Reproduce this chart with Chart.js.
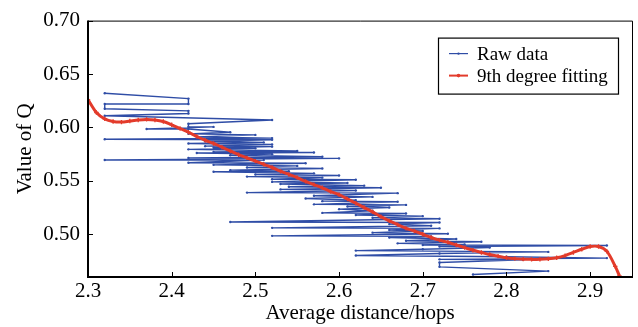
<!DOCTYPE html>
<html>
<head>
<meta charset="utf-8">
<script src="https://cdn.jsdelivr.net/npm/chart.js@4.4.1/dist/chart.umd.min.js"></script>
<style>
  html, body { margin: 0; padding: 0; background: #fff; }
  #wrap { width: 638px; height: 327px; }
</style>
</head>
<body>
<div id="wrap"><canvas id="myChart" width="638" height="327"></canvas></div>
<script>
// raw data, in the order it was recorded (the line zigzags between points)
const rawX = [
  2.32, 2.42, 2.42, 2.32, 2.32, 2.42, 2.42, 2.32, 2.52, 2.42,
  2.42, 2.45, 2.37, 2.42, 2.47, 2.42, 2.50, 2.43, 2.52, 2.32,
  2.52, 2.44, 2.51, 2.42, 2.52, 2.44, 2.52, 2.45, 2.50, 2.42,
  2.55, 2.45, 2.57, 2.43, 2.52, 2.47, 2.58, 2.42, 2.60, 2.32,
  2.51, 2.42, 2.56, 2.45, 2.55, 2.49, 2.58, 2.47, 2.54, 2.45,
  2.57, 2.50, 2.60, 2.49, 2.58, 2.52, 2.62, 2.52, 2.61, 2.53,
  2.63, 2.54, 2.65, 2.53, 2.62, 2.49, 2.67, 2.57, 2.64, 2.56,
  2.62, 2.58, 2.67, 2.57, 2.68, 2.61, 2.66, 2.60, 2.64, 2.58,
  2.68, 2.62, 2.70, 2.64, 2.72, 2.47, 2.72, 2.66, 2.71, 2.52,
  2.72, 2.66, 2.70, 2.64, 2.73, 2.52, 2.71, 2.66, 2.74, 2.68,
  2.77, 2.67, 2.75, 2.70, 2.92, 2.72, 2.78, 2.70, 2.62, 2.85,
  2.72, 2.62, 2.80, 2.92, 2.72, 2.82, 2.72, 2.72, 2.85, 2.76
];
const rawQ = [
  0.632, 0.627, 0.622, 0.622, 0.6175, 0.6155, 0.613, 0.611, 0.607, 0.6035,
  0.6005, 0.6005, 0.5985, 0.5985, 0.5955, 0.594, 0.593, 0.591, 0.590, 0.589,
  0.5885, 0.587, 0.586, 0.585, 0.584, 0.5825, 0.582, 0.581, 0.5805, 0.5795,
  0.578, 0.577, 0.5765, 0.576, 0.575, 0.574, 0.5725, 0.5715, 0.571, 0.5695,
  0.5695, 0.567, 0.5665, 0.565, 0.564, 0.5625, 0.5615, 0.560, 0.559, 0.5585,
  0.557, 0.556, 0.555, 0.554, 0.553, 0.5515, 0.551, 0.549, 0.548, 0.547,
  0.5455, 0.5445, 0.5435, 0.542, 0.541, 0.539, 0.5385, 0.536, 0.535, 0.5335,
  0.532, 0.531, 0.5305, 0.528, 0.5275, 0.526, 0.525, 0.5235, 0.522, 0.520,
  0.5195, 0.518, 0.517, 0.5155, 0.5145, 0.5115, 0.511, 0.5095, 0.508, 0.506,
  0.5055, 0.504, 0.503, 0.5015, 0.5005, 0.4985, 0.498, 0.497, 0.4955, 0.494,
  0.493, 0.4915, 0.4905, 0.490, 0.4895, 0.4885, 0.4875, 0.486, 0.4847, 0.4835,
  0.482, 0.4801, 0.479, 0.4777, 0.4765, 0.476, 0.4736, 0.4695, 0.4655, 0.4623
];

// 9th degree fit
const fitX = [
  2.30, 2.31, 2.32, 2.33, 2.34, 2.35, 2.36, 2.37, 2.38, 2.39,
  2.40, 2.41, 2.42, 2.43, 2.44, 2.45, 2.46, 2.47, 2.48, 2.49,
  2.50, 2.51, 2.52, 2.53, 2.54, 2.55, 2.56, 2.57, 2.58, 2.59,
  2.60, 2.61, 2.62, 2.63, 2.64, 2.65, 2.66, 2.67, 2.68, 2.69,
  2.70, 2.71, 2.72, 2.73, 2.74, 2.75, 2.76, 2.77, 2.78, 2.79,
  2.80, 2.81, 2.82, 2.83, 2.84, 2.85, 2.86, 2.87, 2.88, 2.89,
  2.90, 2.91, 2.92, 2.93, 2.935
];
const fitQ = [
  0.626, 0.614, 0.608, 0.6055, 0.605, 0.606, 0.607, 0.6075, 0.607, 0.6055,
  0.6025, 0.599, 0.5955, 0.5915, 0.588, 0.585, 0.5815, 0.578, 0.5745, 0.5715,
  0.5685, 0.5655, 0.5625, 0.559, 0.556, 0.553, 0.5495, 0.5465, 0.5435, 0.540,
  0.537, 0.533, 0.529, 0.525, 0.521, 0.5165, 0.5125, 0.509, 0.5055, 0.503,
  0.500, 0.497, 0.4945, 0.4925, 0.490, 0.4875, 0.485, 0.483, 0.481, 0.4795,
  0.478, 0.4772, 0.4767, 0.4765, 0.4765, 0.477, 0.478, 0.480, 0.483, 0.486,
  0.4885, 0.4885, 0.484, 0.470, 0.461
];

const xTicks = [2.3, 2.4, 2.5, 2.6, 2.7, 2.8, 2.9];
const yTicks = [0.50, 0.55, 0.60, 0.65, 0.70];

const serif = "'Liberation Serif', 'Times New Roman', serif";
const BLUE = "#2f4da6";
const RED = "#e33b2b";

const toPts = (xs, ys) => xs.map((x, i) => ({ x: x, y: ys[i] }));

// frame, inward ticks and the legend box
const framePlugin = {
  id: "frame",
  afterDraw(chart) {
    const { ctx, chartArea: a, scales } = chart;
    ctx.save();
    ctx.strokeStyle = "#000";
    ctx.lineWidth = 1;
    ctx.beginPath();
    ctx.moveTo(a.left, a.top + 0.5);
    ctx.lineTo(a.right + 0.5, a.top + 0.5);
    ctx.lineTo(a.right + 0.5, a.bottom);
    ctx.stroke();
    ctx.lineWidth = 2;
    ctx.beginPath();
    ctx.moveTo(a.left, a.top);
    ctx.lineTo(a.left, a.bottom);
    ctx.lineTo(a.right + 1, a.bottom);
    ctx.stroke();
    ctx.lineWidth = 1;
    xTicks.forEach((v) => {
      const px = Math.round(scales.x.getPixelForValue(v)) + 0.5;
      ctx.beginPath();
      ctx.moveTo(px, a.bottom);
      ctx.lineTo(px, a.bottom - 5);
      ctx.stroke();
    });
    yTicks.forEach((v) => {
      const py = Math.round(scales.y.getPixelForValue(v)) + 0.5;
      ctx.beginPath();
      ctx.moveTo(a.left, py);
      ctx.lineTo(a.left + 5, py);
      ctx.stroke();
    });

    // legend
    const bx = a.right - 194, by = a.top + 17, bw = 180, bh = 56;
    ctx.lineWidth = 1.2;
    ctx.strokeRect(bx + 0.5, by + 0.5, bw, bh);
    ctx.font = "19px " + serif;
    ctx.textBaseline = "middle";
    ctx.fillStyle = "#000";
    chart.data.datasets.forEach((ds, i) => {
      const ry = by + 16 + i * 22;
      ctx.strokeStyle = ds.borderColor;
      ctx.lineWidth = i === 0 ? 1.2 : 2;
      ctx.beginPath();
      ctx.moveTo(bx + 11, ry);
      ctx.lineTo(bx + 30, ry);
      ctx.stroke();
      ctx.fillStyle = ds.borderColor;
      ctx.beginPath();
      ctx.arc(bx + 20.5, ry, i === 0 ? 1.2 : 1.8, 0, Math.PI * 2);
      ctx.fill();
      ctx.fillStyle = "#000";
      ctx.fillText(ds.label, bx + 39, ry + 1);
    });
    ctx.restore();
  },
};

new Chart(document.getElementById("myChart"), {
  type: "scatter",
  data: {
    datasets: [
      {
        label: "Raw data",
        data: toPts(rawX, rawQ),
        showLine: true,
        borderColor: BLUE,
        backgroundColor: BLUE,
        borderWidth: 1.4,
        pointRadius: 1.2,
        pointBorderWidth: 0,
        tension: 0,
        order: 2,
      },
      {
        label: "9th degree fitting",
        data: toPts(fitX, fitQ),
        showLine: true,
        borderColor: RED,
        backgroundColor: RED,
        borderWidth: 3,
        pointStyle: "cross",
        pointRadius: 2.2,
        pointBorderWidth: 1.3,
        tension: 0.3,
        order: 1,
      },
    ],
  },
  options: {
    responsive: false,
    animation: false,
    layout: { padding: { top: 17, right: 6, left: 0, bottom: 0 } },
    plugins: { legend: { display: false }, tooltip: { enabled: false } },
    scales: {
      x: {
        type: "linear",
        min: 2.3,
        max: 2.95,
        grid: { display: false, drawTicks: false },
        border: { display: false },
        afterFit: (s) => { s.height = 50; },
        ticks: {
          stepSize: 0.1,
          includeBounds: false,
          padding: 2,
          color: "#000",
          font: { family: serif, size: 21 },
          callback: (v) => Number(v).toFixed(1),
        },
        title: {
          display: true,
          text: "Average distance/hops",
          color: "#000",
          font: { family: serif, size: 21 },
          padding: { top: 0, bottom: 1 },
        },
      },
      y: {
        type: "linear",
        min: 0.46,
        max: 0.70,
        grid: { display: false, drawTicks: false },
        border: { display: false },
        afterFit: (s) => { s.width = 88; },
        ticks: {
          stepSize: 0.05,
          includeBounds: false,
          padding: 8,
          color: "#000",
          font: { family: serif, size: 21 },
          callback: (v) => Number(v).toFixed(2),
        },
        title: {
          display: true,
          text: "Value of Q",
          color: "#000",
          font: { family: serif, size: 21 },
          padding: { top: 13, bottom: 0 },
        },
      },
    },
  },
  plugins: [framePlugin],
});
</script>
</body>
</html>
